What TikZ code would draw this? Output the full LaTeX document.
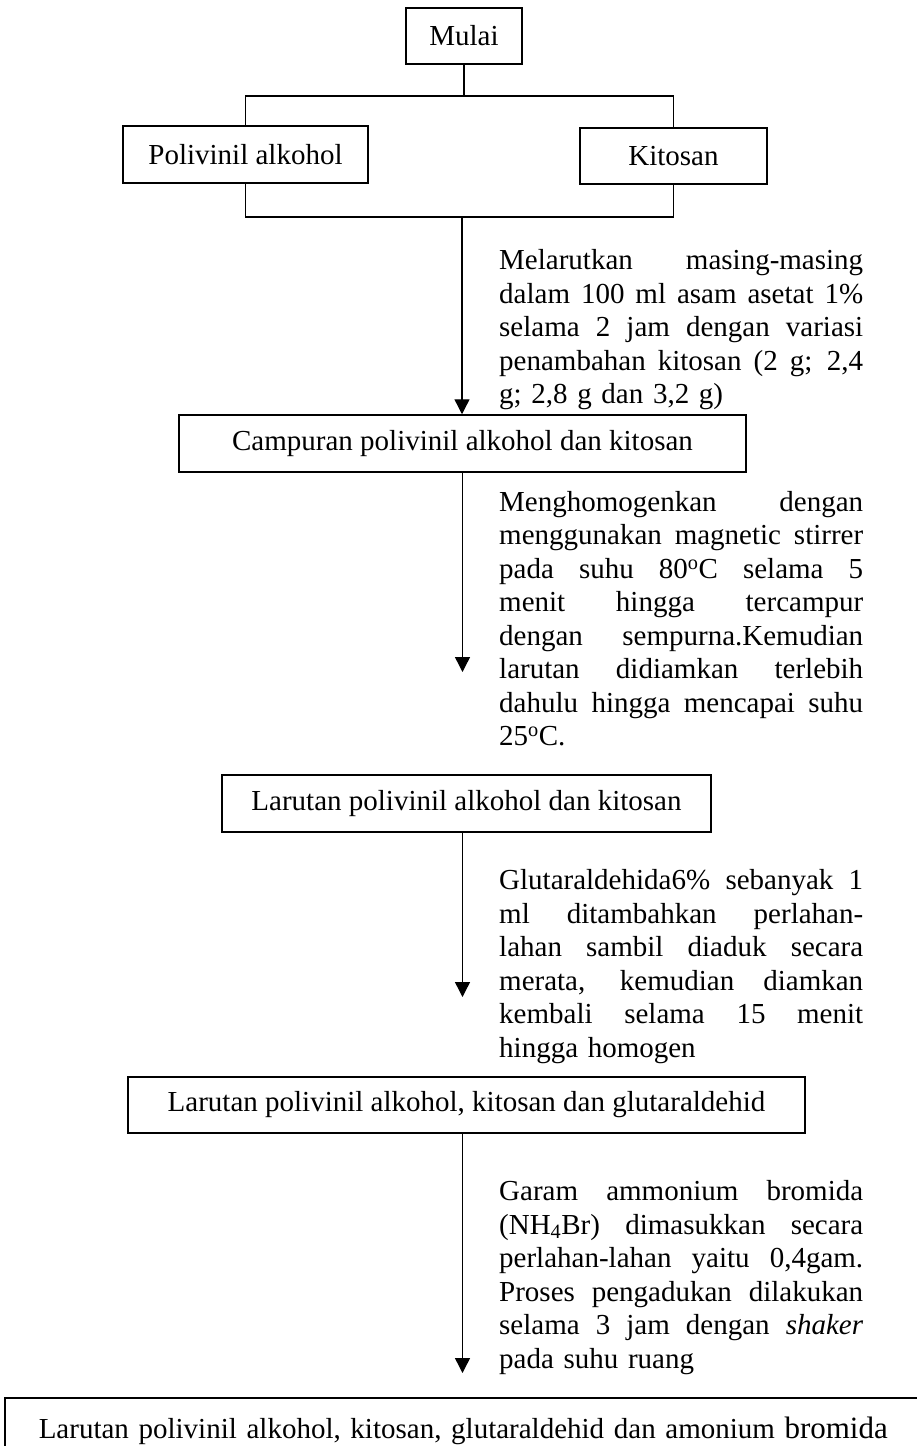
\documentclass[tikz,border=0pt]{standalone}
\usepackage{fontspec}
\setmainfont{Liberation Serif}
\usetikzlibrary{arrows.meta}
\newlength\notew \setlength\notew{364pt}
\newcommand\jl[1]{\makebox[\notew][s]{\spaceskip=0.25em plus 1fil\relax #1}\\}
\begin{document}
\begin{tikzpicture}[x=1pt,y=-1pt,
  bx/.style={draw=black,line width=1.5pt,inner sep=0pt,minimum height=57pt,font=\fontsize{29}{33.5}\selectfont},
  nt/.style={anchor=north west,inner sep=0pt,text width=\notew,align=left,font=\fontsize{29}{33.5}\selectfont},
  ln/.style={line width=1.4pt},
  ar/.style={line width=1.4pt,-{Triangle[width=15pt,length=15pt]}}]
\useasboundingbox (0,0) rectangle (917,1446);
\node[bx,minimum width=116pt,minimum height=56pt] (mulai) at (464,36) {Mulai};
\node[bx,minimum width=245pt] (pva) at (245.5,154.5) {Polivinil alkohol};
\node[bx,minimum width=187pt,minimum height=56pt] (kit) at (673.5,156) {Kitosan};
\coordinate (atas) at (464,96); \coordinate (bawah) at (462,217);
\draw[ln] (mulai) -- (atas); \draw[ln] (pva.north) |- (atas) -| (kit.north);
\draw[ln] (pva.south) |- (bawah) -| (kit.south);
% step 1
\node[bx,minimum width=567pt] (campur) at (462.5,443.5) {Campuran polivinil alkohol dan kitosan};
\draw[ar] (bawah) -- (bawah |- campur.north);
\node[nt] (n1) at (499,246) {\jl{\strut Melarutkan masing-masing}\jl{dalam 100 ml asam asetat 1\%}\jl{selama 2 jam dengan variasi}\jl{penambahan kitosan (2 g; 2,4}g; 2,8 g dan 3,2 g)};
% step 2
\node[bx,minimum width=489pt] (lar1) at (466.5,803.5) {Larutan polivinil alkohol dan kitosan};
\coordinate (t2) at (campur.south |- 0,672);
\draw[ar] (campur.south) -- (t2);
\node[nt] (n2) at (499,487.5) {\jl{\strut Menghomogenkan dengan}\jl{menggunakan magnetic stirrer}\jl{pada suhu 80\textsuperscript{o}C selama 5}\jl{menit hingga tercampur}\jl{dengan sempurna.Kemudian}\jl{larutan didiamkan terlebih}\jl{dahulu hingga mencapai suhu}25\textsuperscript{o}C.};
% step 3
\node[bx,minimum width=677pt,minimum height=56pt] (lar2) at (466.5,1105) {Larutan polivinil alkohol, kitosan dan glutaraldehid};
\coordinate (t3) at (campur.south |- 0,997);
\draw[ar] (t3 |- lar1.south) -- (t3);
\node[nt] (n3) at (499,866) {\jl{\strut Glutaraldehida6\% sebanyak 1}\jl{ml ditambahkan perlahan-}\jl{lahan sambil diaduk secara}\jl{merata, kemudian diamkan}\jl{kembali selama 15 menit}hingga homogen};
% step 4
\node[bx,anchor=north west,minimum height=66pt,text width=962pt,inner xsep=34pt,align=left] (hasil) at (4,1397) {Larutan polivinil alkohol, kitosan, glutaraldehid dan amonium {\fontsize{31}{33.5}\selectfont bromida}};
\coordinate (t4) at (campur.south |- 0,1373);
\draw[ar] (t4 |- lar2.south) -- (t4);
\node[nt] (n4) at (499,1177) {\jl{\strut Garam ammonium bromida}\jl{(NH\textsubscript{4}Br) dimasukkan secara}\jl{perlahan-lahan yaitu 0,4gam.}\jl{Proses pengadukan dilakukan}\jl{selama 3 jam dengan \textit{shaker}}pada suhu ruang};
\end{tikzpicture}
\end{document}
